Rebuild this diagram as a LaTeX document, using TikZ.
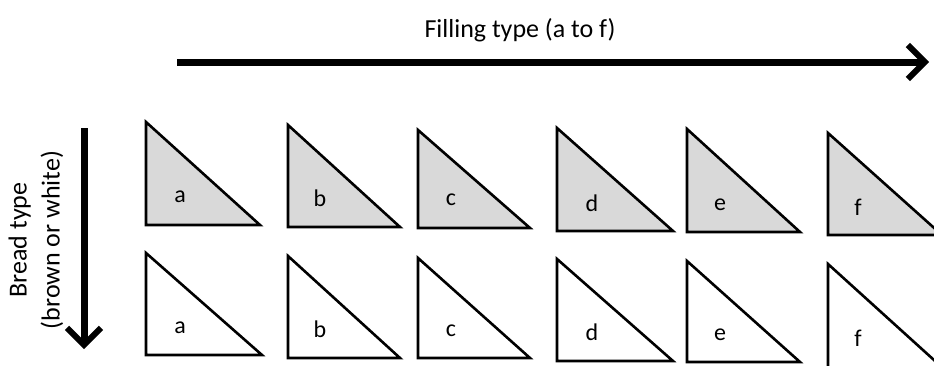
\documentclass[tikz,border=0pt]{standalone}
\usepackage{fontspec}
\setmainfont{Carlito}
\usetikzlibrary{arrows.meta}
\begin{document}
\begin{tikzpicture}[x=1pt,y=-1pt,
  tri/.style={draw=black,line width=2.6pt,line join=miter},
  filled/.style={tri,fill=black!15},
  plain/.style={tri,fill=white},
  lbl/.style={font=\fontsize{24}{26}\selectfont,inner sep=0pt},
  bigarrow/.style={line width=7pt,-{Straight Barb[length=17pt,width=34pt,line width=6pt]}},
  ttl/.style={font=\fontsize{26}{33}\selectfont,inner sep=0pt,align=center}]
\useasboundingbox (0,0) rectangle (934,365);
\begin{scope}
\clip (0,0) rectangle (934,365);
% row 1 (grey)
\draw[filled] (146,122) -- (146,225) -- (260,225) -- cycle;
\draw[filled] (288,125) -- (288,227) -- (400,227) -- cycle;
\draw[filled] (418,130) -- (418,228) -- (530,228) -- cycle;
\draw[filled] (557,128) -- (557,231) -- (673,231) -- cycle;
\draw[filled] (687,129) -- (687,232) -- (800,232) -- cycle;
\draw[filled] (828,133) -- (828,235) -- (942,235) -- cycle;
% row 2 (white)
\draw[plain] (146,253) -- (146,355) -- (262,355) -- cycle;
\draw[plain] (288,256) -- (288,358) -- (400,358) -- cycle;
\draw[plain] (418,258) -- (418,358) -- (530,358) -- cycle;
\draw[plain] (557,259) -- (557,361) -- (673,361) -- cycle;
\draw[plain] (687,261) -- (687,362) -- (800,362) -- cycle;
\draw[plain] (828,264) -- (828,370) -- (945,370) -- cycle;
\end{scope}
% labels
\node[lbl] (a1) at (180,197) {a};
\node[lbl] (b1) at (320,198) {b};
\node[lbl] (c1) at (451,200) {c};
\node[lbl] (d1) at (592,203) {d};
\node[lbl] (e1) at (720,205) {e};
\node[lbl] (f1) at (858,207) {f};
\node[lbl] (a2) at (180,328) {a};
\node[lbl] (b2) at (320,329) {b};
\node[lbl] (c2) at (451,331) {c};
\node[lbl] (d2) at (592,332) {d};
\node[lbl] (e2) at (720,335) {e};
\node[lbl] (f2) at (858,338) {f};
% axes
\coordinate (hs) at (177,62);
\coordinate (he) at (929,62);
\draw[bigarrow] (hs) -- (he);
\node[ttl] (htitle) at (520,30) {Filling type (a to f)};
\coordinate (vs) at (84,128);
\coordinate (ve) at (84,349);
\draw[bigarrow] (vs) -- (ve);
\node[ttl,rotate=90] (vtitle) at (36,240) {Bread type\\(brown or white)};
\end{tikzpicture}
\end{document}
